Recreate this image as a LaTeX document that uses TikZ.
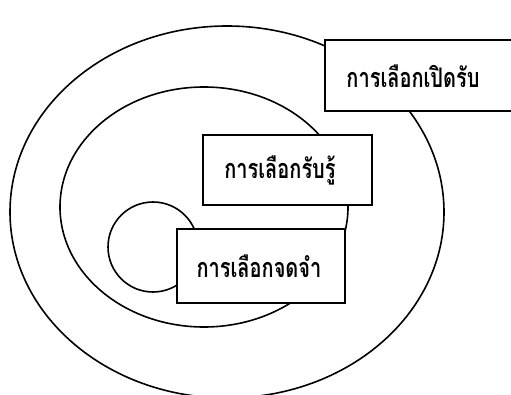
\documentclass[tikz,border=0pt]{standalone}
\usepackage{fontspec}
\newfontfamily\thaifont[Script=Thai,FakeStretch=0.74]{Loma}
\begin{document}
\begin{tikzpicture}[x=1pt,y=-1pt,
  ring/.style={draw=black,line width=1.6pt},
  box/.style={draw=black,fill=white,line width=1.7pt,rectangle,inner sep=0pt},
  lbl/.style={font=\thaifont\bfseries\fontsize{27}{30}\selectfont,inner sep=0pt}]
\useasboundingbox (0,0) rectangle (511,395);
\clip (0,0) rectangle (511,395);
\draw[ring] (227,212) ellipse [x radius=217pt, y radius=186pt];
\draw[ring] (204,207) ellipse [x radius=144pt, y radius=120pt];
\draw[ring] (153,247) circle [radius=45pt];
\node[box,minimum width=200pt,minimum height=71pt] (openbox) at (425,75.5) {};
\node[lbl] (opentxt) at (413,76) {การเลือกเปิดรับ};
\node[box,minimum width=169pt,minimum height=70pt] (percbox) at (287.5,170) {};
\node[lbl] (perctxt) at (280,170) {การเลือกรับรู้};
\node[box,minimum width=168pt,minimum height=74pt] (membox) at (261,266) {};
\node[lbl] (memtxt) at (259,266) {การเลือกจดจำ};
\end{tikzpicture}
\end{document}
